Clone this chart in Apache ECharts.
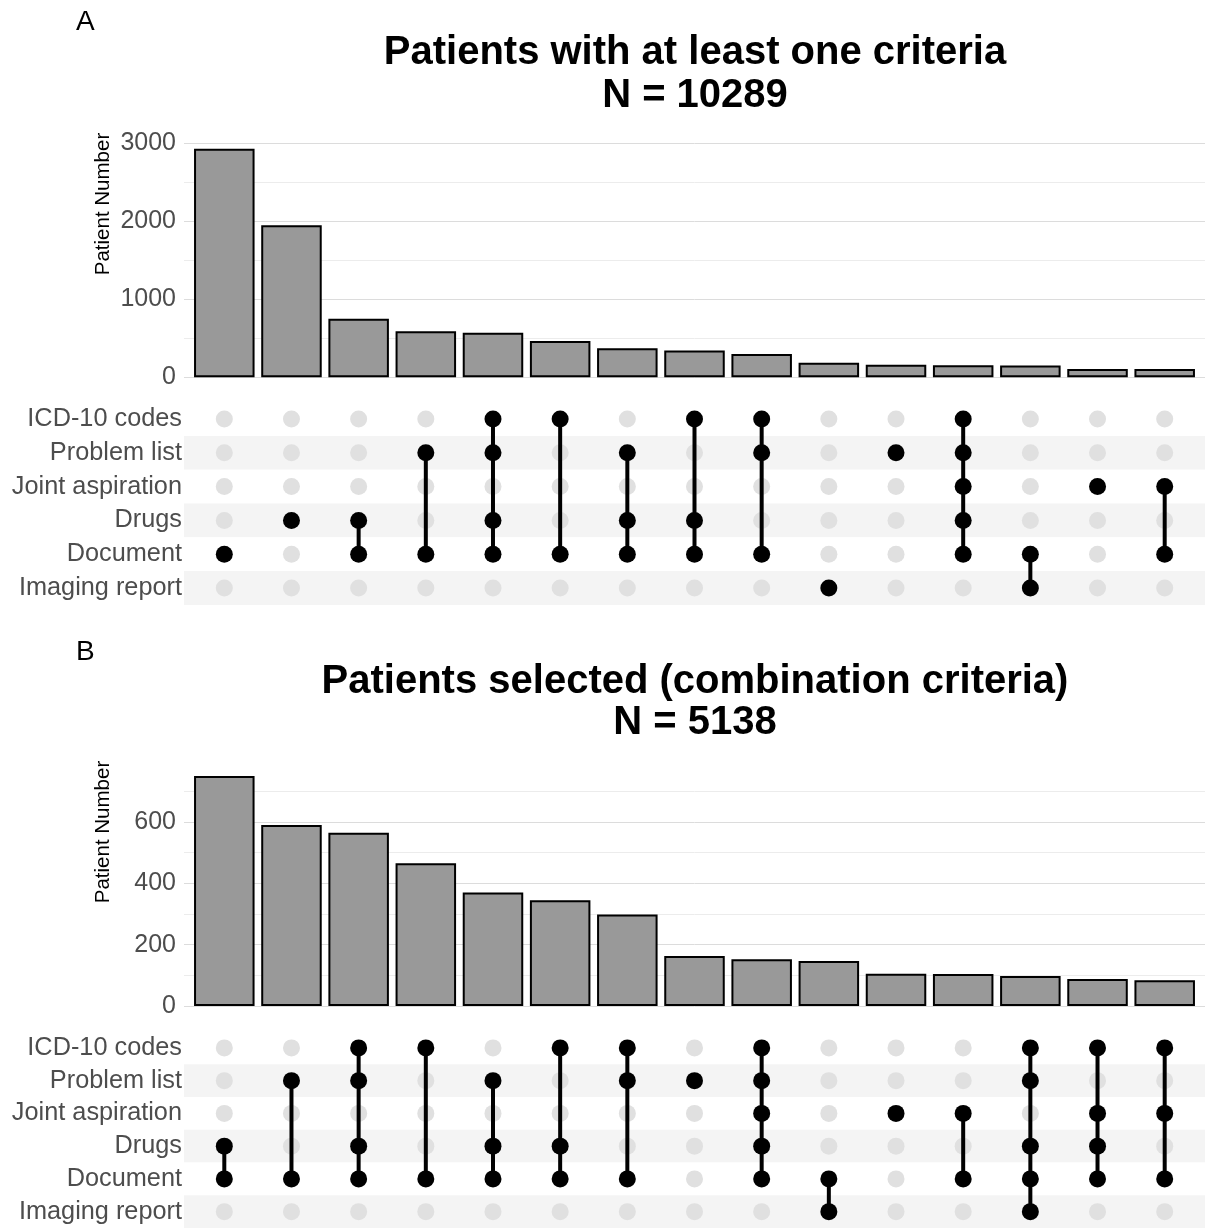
<!DOCTYPE html>
<html>
<head>
<meta charset="utf-8">
<script src="https://cdn.jsdelivr.net/npm/echarts@6/dist/echarts.min.js"></script>
<style>html,body{margin:0;padding:0;background:#fff}#c{width:1205px;height:1228px}</style>
</head>
<body>
<div id="c"></div>
<script>
// ---- data ----
const setNames = ["ICD-10 codes", "Problem list", "Joint aspiration", "Drugs", "Document", "Imaging report"];

const titleA = "Patients with at least one criteria";
const nA = "N = 10289";
const countsA = [2930, 1950, 750, 590, 570, 465, 372, 345, 300, 187, 162, 155, 150, 106, 105];
const combosA = [
  ["Document"],
  ["Drugs"],
  ["Drugs", "Document"],
  ["Problem list", "Document"],
  ["ICD-10 codes", "Problem list", "Drugs", "Document"],
  ["ICD-10 codes", "Document"],
  ["Problem list", "Drugs", "Document"],
  ["ICD-10 codes", "Drugs", "Document"],
  ["ICD-10 codes", "Problem list", "Document"],
  ["Imaging report"],
  ["Problem list"],
  ["ICD-10 codes", "Problem list", "Joint aspiration", "Drugs", "Document"],
  ["Document", "Imaging report"],
  ["Joint aspiration"],
  ["Joint aspiration", "Document"]
];
const yTicksA = [0, 1000, 2000, 3000];

const titleB = "Patients selected (combination criteria)";
const nB = "N = 5138";
const countsB = [750, 590, 565, 465, 370, 345, 298, 163, 152, 147, 105, 104, 98, 88, 84];
const combosB = [
  ["Drugs", "Document"],
  ["Problem list", "Document"],
  ["ICD-10 codes", "Problem list", "Drugs", "Document"],
  ["ICD-10 codes", "Document"],
  ["Problem list", "Drugs", "Document"],
  ["ICD-10 codes", "Drugs", "Document"],
  ["ICD-10 codes", "Problem list", "Document"],
  ["Problem list"],
  ["ICD-10 codes", "Problem list", "Joint aspiration", "Drugs", "Document"],
  ["Document", "Imaging report"],
  ["Joint aspiration"],
  ["Joint aspiration", "Document"],
  ["ICD-10 codes", "Problem list", "Drugs", "Document", "Imaging report"],
  ["ICD-10 codes", "Joint aspiration", "Drugs", "Document"],
  ["ICD-10 codes", "Joint aspiration", "Document"]
];
const yTicksB = [0, 200, 400, 600];

// ---- build ----
const FONT = "'Liberation Sans', Arial, sans-serif";
const chart = echarts.init(document.getElementById('c'), null, {renderer: 'canvas'});

const L = 184, W = 1022;
const XMIN = 0.4, XMAX = 15.6;
const unit = W / (XMAX - XMIN);

const panels = [
  {counts: countsA, combos: combosA, ticks: yTicksA, barTop: 143.3, barH: 234, yMax: 3000, yInt: 500, matTop: 402.1, matH: 202.8},
  {counts: countsB, combos: combosB, ticks: yTicksB, barTop: 760.6, barH: 245.4, yMax: 800, yInt: 100, matTop: 1031.5, matH: 201.6}
];

const grid = [], xAxis = [], yAxis = [], series = [];
panels.forEach((p, pi) => {
  const gBar = grid.length;
  grid.push({left: L, width: W, top: p.barTop, height: p.barH});
  const gMat = grid.length;
  grid.push({left: L, width: W, top: p.matTop, height: p.matH});

  xAxis.push({gridIndex: gBar, type: 'value', min: XMIN, max: XMAX, show: false});
  xAxis.push({gridIndex: gMat, type: 'value', min: XMIN, max: XMAX, show: false});

  const maxIsTick = p.ticks.indexOf(p.yMax) >= 0;
  yAxis.push({
    gridIndex: gBar, type: 'value', min: 0, max: p.yMax, interval: p.yInt,
    axisLine: {show: false}, axisTick: {show: false},
    axisLabel: {
      fontSize: 25, color: '#4d4d4d', fontFamily: FONT, margin: 8,
      showMaxLabel: maxIsTick,
      formatter: v => p.ticks.indexOf(v) >= 0 ? String(v) : ''
    },
    splitLine: {show: true, showMaxLine: maxIsTick, lineStyle: {color: ['#dcdcdc', '#ececec'], width: 1}}
  });
  yAxis.push({
    gridIndex: gMat, type: 'category', data: setNames, inverse: true,
    axisLine: {show: false}, axisTick: {show: false},
    axisLabel: {fontSize: 25.3, color: '#4d4d4d', fontFamily: FONT, margin: 2},
    splitLine: {show: false},
    splitArea: {show: true, areaStyle: {color: ['#ffffff', '#f4f4f4']}}
  });
  const xiBar = xAxis.length - 2, xiMat = xAxis.length - 1;
  const yiBar = yAxis.length - 2, yiMat = yAxis.length - 1;

  series.push({
    type: 'bar', xAxisIndex: xiBar, yAxisIndex: yiBar,
    data: p.counts.map((c, i) => [i + 1, c]),
    barWidth: unit * 0.9,
    itemStyle: {color: '#999999', borderColor: '#000000', borderWidth: 2},
    silent: true
  });

  const grey = [], black = [], segs = [];
  p.combos.forEach((combo, i) => {
    const rows = combo.map(s => setNames.indexOf(s));
    setNames.forEach((s, r) => {
      if (rows.indexOf(r) < 0) grey.push([i + 1, r]);
    });
    rows.forEach(r => black.push([i + 1, r]));
    if (rows.length > 1) segs.push([i + 1, Math.min(...rows), Math.max(...rows)]);
  });

  series.push({
    type: 'scatter', xAxisIndex: xiMat, yAxisIndex: yiMat, data: grey,
    symbolSize: 17, itemStyle: {color: '#e0e0e0', opacity: 1}, z: 2, silent: true
  });
  series.push({
    type: 'custom', xAxisIndex: xiMat, yAxisIndex: yiMat, data: segs, z: 3, silent: true,
    renderItem: (params, api) => {
      const a = api.coord([api.value(0), api.value(1)]);
      const b = api.coord([api.value(0), api.value(2)]);
      return {type: 'line', shape: {x1: a[0], y1: a[1], x2: b[0], y2: b[1]}, style: {stroke: '#000', lineWidth: 4}};
    },
    encode: {x: 0, y: [1, 2]}
  });
  series.push({
    type: 'scatter', xAxisIndex: xiMat, yAxisIndex: yiMat, data: black,
    symbolSize: 17, itemStyle: {color: '#000000', opacity: 1}, z: 4, silent: true
  });
});

const txt = (t, x, y, size, weight, align, rot) => ({
  type: 'text', x: x, y: y, rotation: rot || 0, silent: true,
  style: {text: t, fontSize: size, fontWeight: weight || 'normal', fontFamily: FONT, fill: '#000',
          textAlign: align || 'left', textVerticalAlign: 'middle'}
});

chart.setOption({
  animation: false,
  backgroundColor: '#ffffff',
  textStyle: {fontFamily: FONT},
  grid: grid, xAxis: xAxis, yAxis: yAxis, series: series,
  graphic: [
    txt('A', 76, 22, 28),
    txt(titleA, 695, 53, 40, 'bold', 'center'),
    txt(nA, 695, 96, 40, 'bold', 'center'),
    txt('Patient Number', 103, 204, 20.5, 'normal', 'center', Math.PI / 2),
    txt('B', 76, 652, 28),
    txt(titleB, 695, 682, 40, 'bold', 'center'),
    txt(nB, 695, 723, 40, 'bold', 'center'),
    txt('Patient Number', 103, 832, 20.5, 'normal', 'center', Math.PI / 2)
  ]
});
</script>
</body>
</html>
